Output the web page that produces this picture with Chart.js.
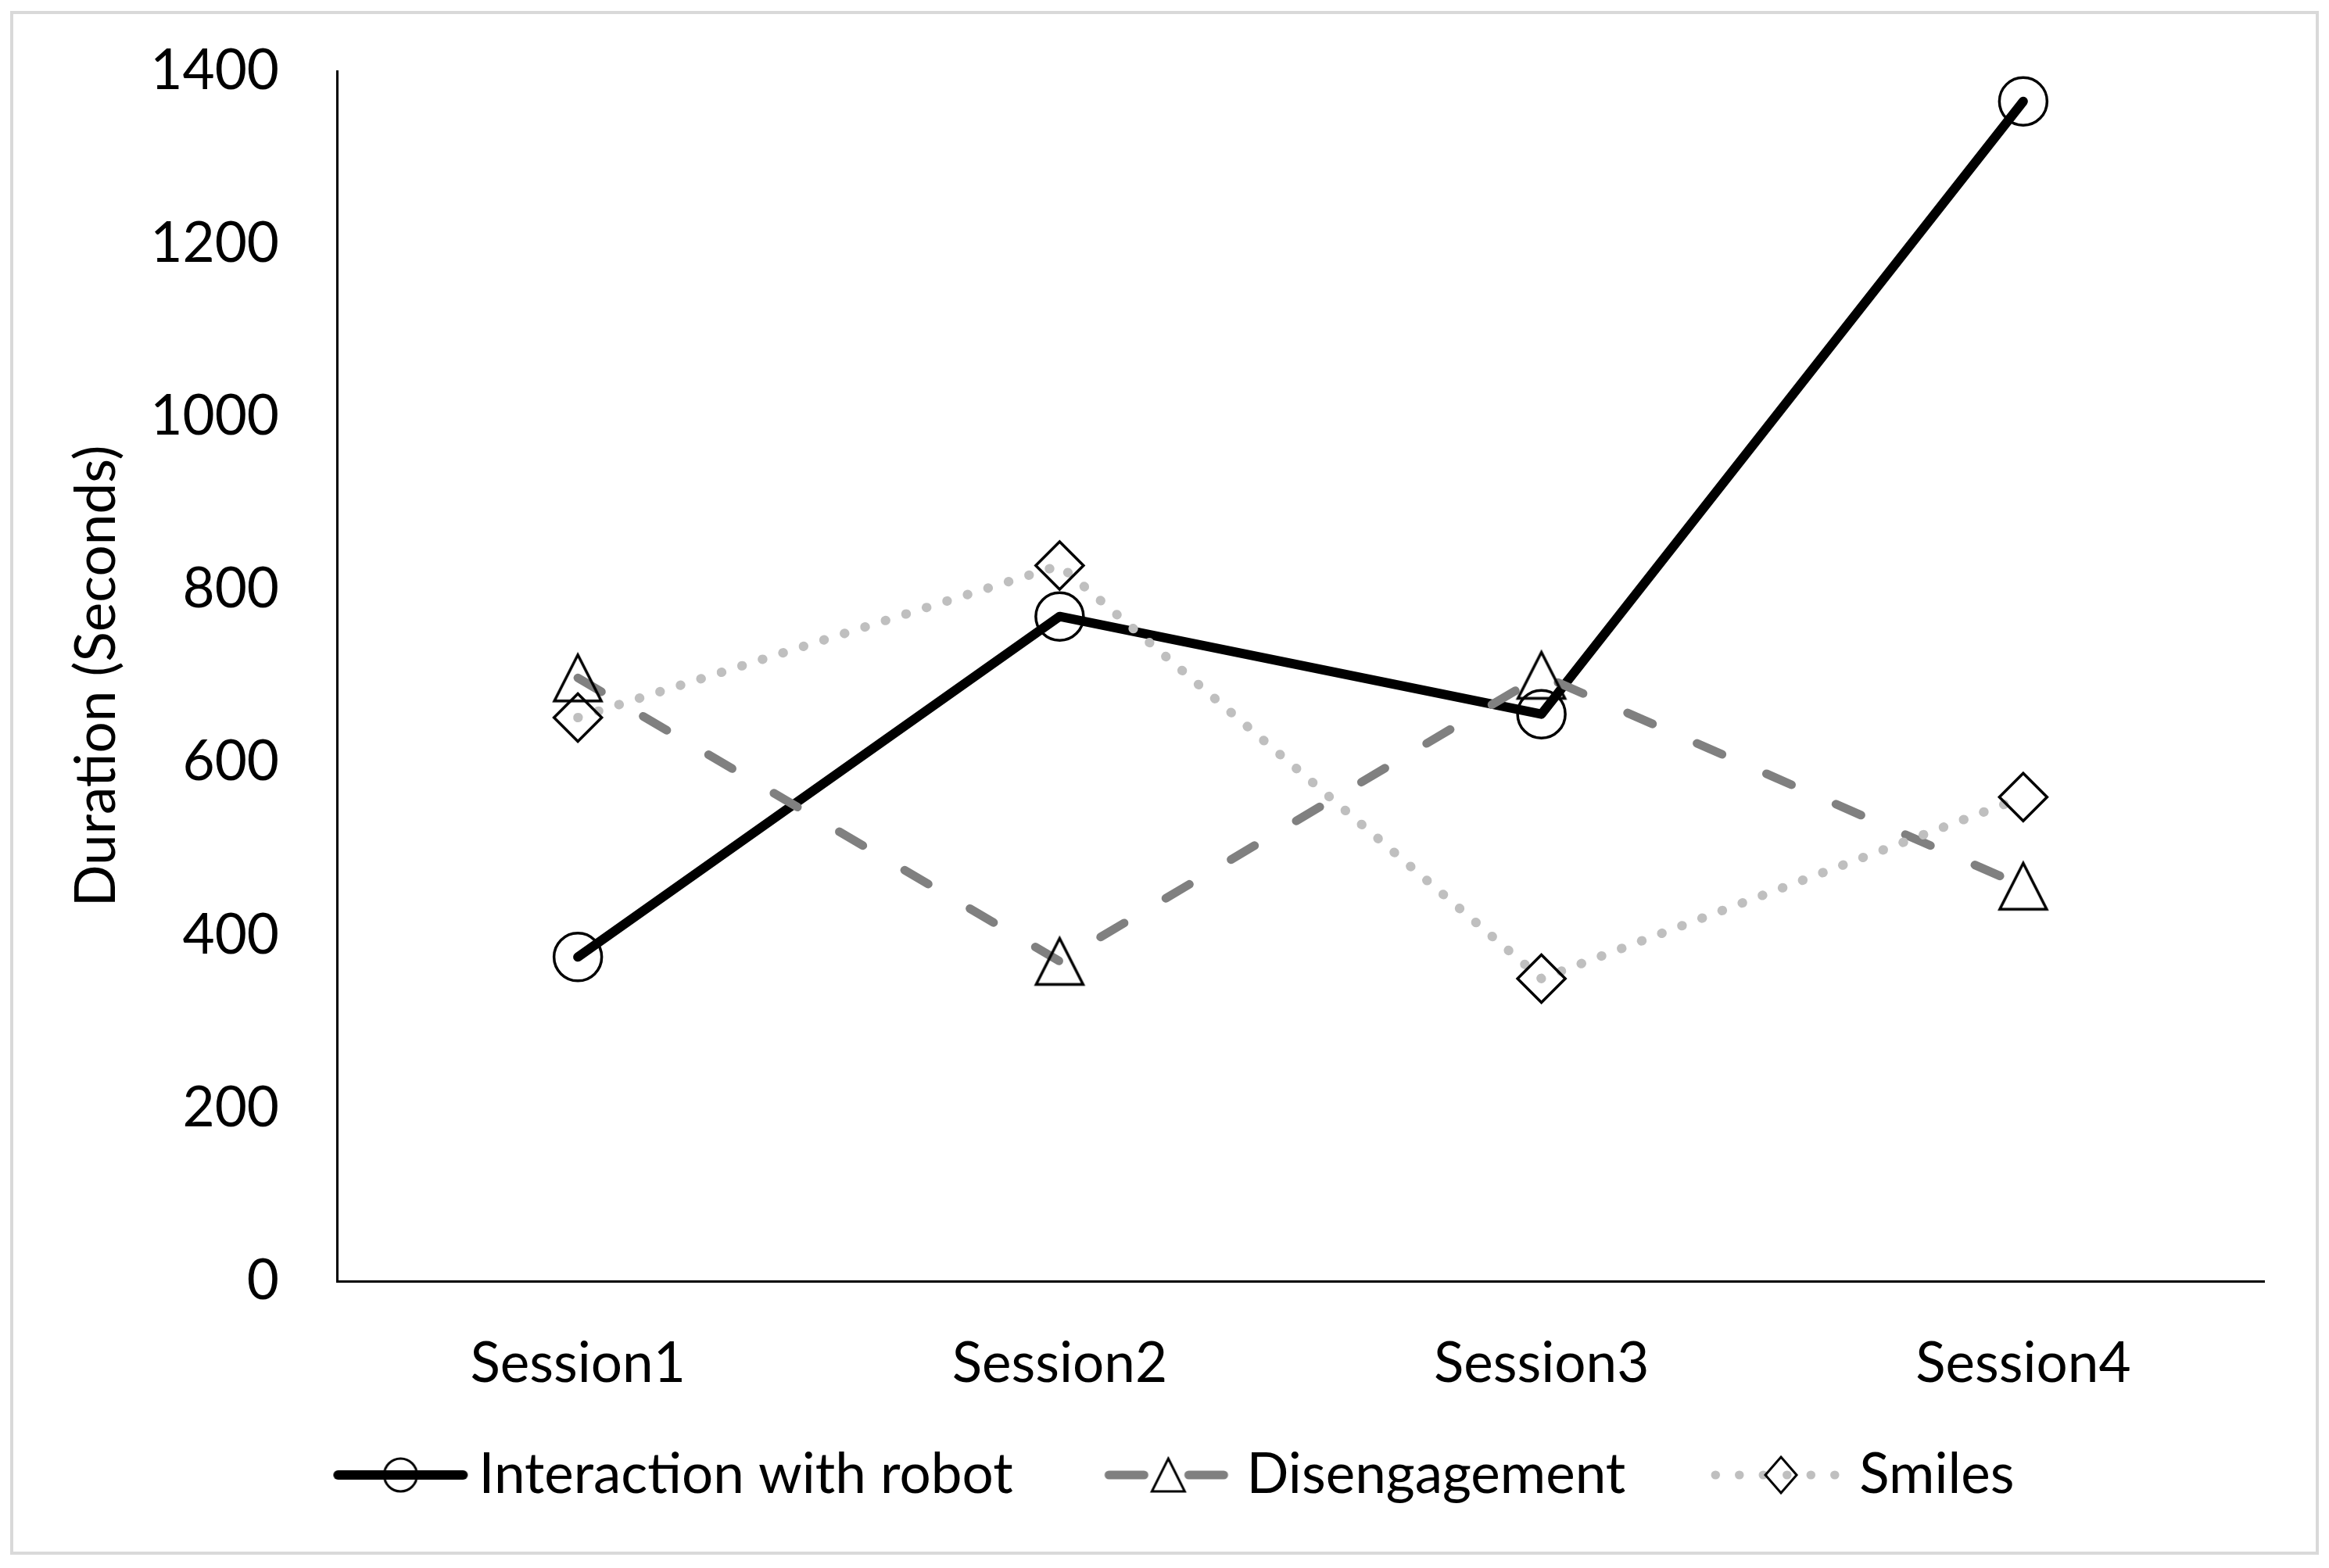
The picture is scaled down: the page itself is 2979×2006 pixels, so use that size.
<!DOCTYPE html>
<html>
<head>
<meta charset="utf-8">
<script src="https://cdn.jsdelivr.net/npm/chart.js@4/dist/chart.umd.min.js"></script>
<style>
  html, body { margin: 0; padding: 0; background: #fff; }
  canvas { display: block; }
</style>
</head>
<body>
<canvas id="chart" width="2979" height="2006"></canvas>
<script>
// Data
const sessions = ['Session1', 'Session2', 'Session3', 'Session4'];
const interaction = [375, 769, 656, 1365];
const disengagement = [698, 370, 701, 457];
const smiles = [652, 828, 350, 560];
const yTicks = [0, 200, 400, 600, 800, 1000, 1200, 1400];
const seriesNames = ['Interaction with robot', 'Disengagement', 'Smiles'];

const FONT = 'Lato';
const FS = 71;
const BLACK = '#000000';
const DARK_GREY = '#808080';
const LIGHT_GREY = '#bfbfbf';

// legend symbol geometry
const LEG_BOX = 243.5;   // pointStyleWidth
const LEG_OFF = 57;      // marker offset from the box centre

// Excel-like triangle (about as wide as tall), no fill
function triangleImage(w, h, lw) {
    const c = document.createElement('canvas');
    c.width = Math.ceil(w + lw * 4);
    c.height = Math.ceil(h + lw * 4);
    const g = c.getContext('2d');
    const cx = c.width / 2, cy = c.height / 2;
    g.beginPath();
    g.moveTo(cx, cy - h / 2);
    g.lineTo(cx + w / 2, cy + h / 2);
    g.lineTo(cx - w / 2, cy + h / 2);
    g.closePath();
    g.lineWidth = lw;
    g.strokeStyle = BLACK;
    g.stroke();
    return c;
}

// line segment + marker, drawn to the right of the legend box centre
function legendSymbol(kind) {
    const c = document.createElement('canvas');
    c.width = 2 * (LEG_OFF + 95);
    c.height = 70;
    const g = c.getContext('2d');
    const mx = c.width / 2 + LEG_OFF, my = c.height / 2;
    g.lineCap = 'round';
    g.beginPath();
    if (kind === 0) {
        g.strokeStyle = BLACK; g.lineWidth = 12;
        g.moveTo(mx - 80, my); g.lineTo(mx + 80, my);
    } else if (kind === 1) {
        g.strokeStyle = DARK_GREY; g.lineWidth = 11;
        g.setLineDash([45, 57]);
        g.moveTo(mx - 76, my); g.lineTo(mx + 76, my);
    } else {
        g.strokeStyle = LIGHT_GREY; g.lineWidth = 11;
        g.setLineDash([0.5, 30]);
        g.moveTo(mx - 84, my); g.lineTo(mx + 84, my);
    }
    g.stroke();
    g.setLineDash([]);
    g.lineWidth = 3;
    g.strokeStyle = BLACK;
    g.beginPath();
    if (kind === 0) {
        g.arc(mx, my, 21, 0, Math.PI * 2);
    } else if (kind === 1) {
        g.moveTo(mx, my - 21); g.lineTo(mx + 21, my + 21); g.lineTo(mx - 21, my + 21); g.closePath();
    } else {
        g.moveTo(mx, my - 23); g.lineTo(mx + 20, my); g.lineTo(mx, my + 23); g.lineTo(mx - 20, my); g.closePath();
    }
    g.stroke();
    return c;
}

const legendIcons = [legendSymbol(0), legendSymbol(1), legendSymbol(2)];
const triangle = triangleImage(60, 59, 3.5);

const framePlugin = {
    id: 'frame',
    beforeDraw(chart) {
        const ctx = chart.ctx;
        ctx.save();
        ctx.fillStyle = '#ffffff';
        ctx.fillRect(0, 0, chart.width, chart.height);
        ctx.strokeStyle = '#d9d9d9';
        ctx.lineWidth = 4;
        ctx.strokeRect(15, 16, chart.width - 30, chart.height - 35);
        ctx.restore();
    }
};

const tickFont = { family: FONT, size: FS };

new Chart(document.getElementById('chart'), {
    type: 'line',
    data: {
        labels: sessions,
        datasets: [
            {
                label: seriesNames[0],
                data: interaction,
                order: 3,
                borderColor: BLACK,
                borderWidth: 12,
                borderCapStyle: 'round',
                borderJoinStyle: 'round',
                pointStyle: 'circle',
                pointRadius: 30.5,
                pointBorderWidth: 3.5,
                pointBorderColor: BLACK,
                pointBackgroundColor: 'rgba(0,0,0,0)',
                tension: 0
            },
            {
                label: seriesNames[1],
                data: disengagement,
                order: 2,
                borderColor: DARK_GREY,
                borderWidth: 11,
                borderDash: [35, 62],
                borderCapStyle: 'round',
                borderJoinStyle: 'round',
                pointStyle: triangle,
                pointRadius: 30,
                pointBorderColor: BLACK,
                pointBackgroundColor: 'rgba(0,0,0,0)',
                tension: 0
            },
            {
                label: seriesNames[2],
                data: smiles,
                order: 1,
                borderColor: LIGHT_GREY,
                borderWidth: 12,
                borderDash: [0.5, 27],
                borderCapStyle: 'round',
                borderJoinStyle: 'round',
                pointStyle: 'rectRot',
                pointRadius: 30.5,
                pointBorderWidth: 3.5,
                pointBorderColor: BLACK,
                pointBackgroundColor: 'rgba(0,0,0,0)',
                tension: 0
            }
        ]
    },
    options: {
        responsive: false,
        animation: false,
        devicePixelRatio: 1,
        layout: { padding: { left: 14, right: 83, top: 91, bottom: 73.5 } },
        scales: {
            x: {
                type: 'category',
                offset: true,
                grid: { display: false },
                border: { display: true, color: BLACK, width: 3 },
                ticks: { color: BLACK, font: tickFont, padding: 56, maxRotation: 0 },
                afterFit: (s) => { s.height = 192.5; }
            },
            y: {
                min: 0,
                max: 1400,
                grid: { display: false },
                border: { display: true, color: BLACK, width: 3 },
                ticks: {
                    color: BLACK,
                    font: tickFont,
                    padding: 66,
                    callback: (v) => String(v)   // no thousands separator
                },
                afterBuildTicks: (s) => { s.ticks = yTicks.map(v => ({ value: v })); },
                title: {
                    display: true,
                    text: 'Duration (Seconds)',
                    color: BLACK,
                    font: tickFont,
                    padding: { top: 68, bottom: 0 }
                },
                afterFit: (s) => {
                    s.width = 417;
                    // tick padding would otherwise push the plot area down
                    s.paddingTop = 45;
                    s.paddingBottom = 45;
                }
            }
        },
        plugins: {
            tooltip: { enabled: false },
            legend: {
                position: 'bottom',
                labels: {
                    usePointStyle: true,
                    pointStyleWidth: LEG_BOX,
                    padding: 20,
                    color: BLACK,
                    font: tickFont,
                    // keep dataset order (datasets use `order` only for drawing)
                    generateLabels: (chart) => chart.data.datasets.map((ds, i) => ({
                        text: ds.label,
                        pointStyle: legendIcons[i],
                        fillStyle: 'rgba(0,0,0,0)',
                        strokeStyle: 'rgba(0,0,0,0)',
                        lineWidth: 0,
                        fontColor: BLACK,
                        hidden: false,
                        datasetIndex: i
                    }))
                }
            }
        }
    },
    plugins: [framePlugin]
});
</script>
</body>
</html>
